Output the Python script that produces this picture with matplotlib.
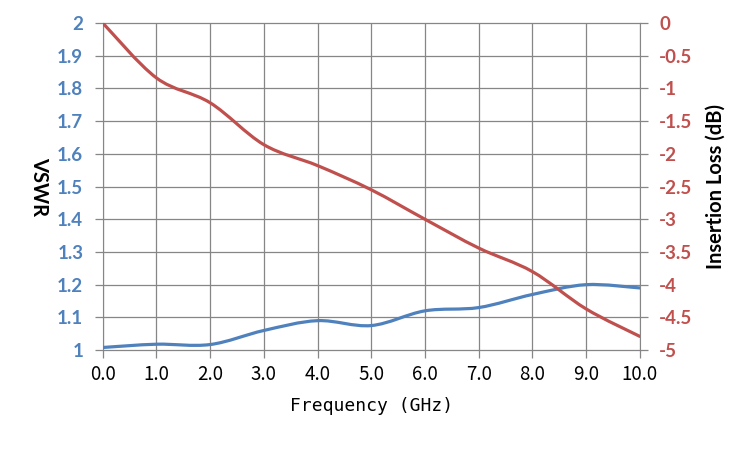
import numpy as np
import matplotlib
matplotlib.use('Agg')
import matplotlib.pyplot as plt
from matplotlib.path import Path
from matplotlib.patches import PathPatch

# 数据
freq = [0.0, 1.0, 2.0, 3.0, 4.0, 5.0, 6.0, 7.0, 8.0, 9.0, 10.0]
vswr = [1.008, 1.018, 1.017, 1.06, 1.09, 1.075, 1.12, 1.13, 1.17, 1.20, 1.19]
ins_loss = [0.0, -0.84, -1.22, -1.86, -2.18, -2.55, -3.0, -3.44, -3.8, -4.37, -4.79]

x_ticks = [0, 1, 2, 3, 4, 5, 6, 7, 8, 9, 10]
x_tick_labels = ['0.0', '1.0', '2.0', '3.0', '4.0', '5.0', '6.0', '7.0', '8.0', '9.0', '10.0']
vswr_ticks = [1, 1.1, 1.2, 1.3, 1.4, 1.5, 1.6, 1.7, 1.8, 1.9, 2]
vswr_tick_labels = ['1', '1.1', '1.2', '1.3', '1.4', '1.5', '1.6', '1.7', '1.8', '1.9', '2']
il_ticks = [0, -0.5, -1, -1.5, -2, -2.5, -3, -3.5, -4, -4.5, -5]
il_tick_labels = ['0', '-0.5', '-1', '-1.5', '-2', '-2.5', '-3', '-3.5', '-4', '-4.5', '-5']

blue = '#4F81BD'
red = '#C0504D'
grid_c = '#868686'


def smooth_path(xs, ys):
    # Excel风格平滑曲线 (Bezier)
    pts = np.column_stack([xs, ys])
    n = len(pts)
    verts = [pts[0]]
    codes = [Path.MOVETO]
    for i in range(n - 1):
        p0 = pts[max(i - 1, 0)]
        p1 = pts[i]
        p2 = pts[i + 1]
        p3 = pts[min(i + 2, n - 1)]
        c1 = p1 + (p2 - p0) / 6.0
        c2 = p2 - (p3 - p1) / 6.0
        verts += [c1, c2, p2]
        codes += [Path.CURVE4] * 3
    return Path(verts, codes)


fig = plt.figure(figsize=(7.5, 4.5), dpi=100)
ax = fig.add_axes([0.137, 0.222, 0.716, 0.727])
ax2 = ax.twinx()

ax.set_xlim(0, 10)
ax.set_ylim(1, 2)
ax2.set_ylim(-5, 0)

ax.set_xticks(x_ticks)
ax.set_xticklabels(x_tick_labels, family='Noto Sans CJK SC', fontsize=13.5)
ax.set_yticks(vswr_ticks)
ax.set_yticklabels(vswr_tick_labels, family='Lato', fontweight='bold', fontsize=13.5, color=blue)
ax2.set_yticks(il_ticks)
ax2.set_yticklabels(il_tick_labels, family='Lato', fontweight='bold', fontsize=13.5, color=red)

ax.grid(True, color=grid_c, lw=0.9)
for gl in ax.get_ygridlines():
    gl.set_clip_on(False)
for a in (ax, ax2):
    for s in a.spines.values():
        s.set_visible(False)
    a.tick_params(length=6, width=0.9, color=grid_c, direction='out')
ax.tick_params(axis='x', pad=4)
ax.tick_params(axis='y', pad=8)
ax2.tick_params(axis='y', pad=8)
ax.spines['left'].set_visible(True)
ax.spines['left'].set_color(grid_c)
ax2.spines['right'].set_visible(True)
ax2.spines['right'].set_color(grid_c)

ax.add_patch(PathPatch(smooth_path(freq, vswr), fill=False, ec=blue, lw=2.3,
                       capstyle='round', joinstyle='round', zorder=3))
ax2.add_patch(PathPatch(smooth_path(freq, ins_loss), fill=False, ec=red, lw=2.3,
                        capstyle='round', joinstyle='round', zorder=3))

ax.set_xlabel('Frequency (GHz)', family='DejaVu Sans Mono', fontsize=13, labelpad=9)
ax.set_ylabel('VSWR', family='Lato', fontweight='bold', fontsize=14.5, rotation=270,
              labelpad=13, va='center')
ax2.set_ylabel('Insertion Loss (dB)', family='Lato', fontweight='bold', fontsize=14.5,
               rotation=90, labelpad=17, va='center')

fig.savefig('out.png', dpi=100)
